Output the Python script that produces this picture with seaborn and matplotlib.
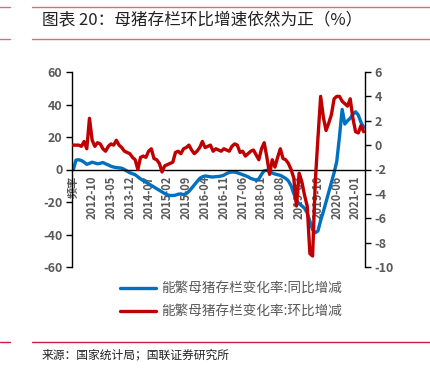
import numpy as np
import pandas as pd
import seaborn as sns
import matplotlib
matplotlib.use('Agg')
from matplotlib import pyplot as plt
from matplotlib.lines import Line2D

# categories: header row "频率" then monthly, 2020-01 not reported
months = pd.period_range('2012-04', '2021-04', freq='M').strftime('%Y-%m').tolist()
months.remove('2020-01')
categories = ['频率'] + months

# 能繁母猪存栏变化率:同比增减 (%), left axis
yoy = [0,
       5.8, 6.0, 5.5, 4.5, 3.2, 3.8, 4.5, 4.0, 3.5,
       3.8, 4.3, 3.5, 2.8, 2.0, 1.5, 1.2, 1.0, 0.8, 0.0, -1.0, -2.0,
       -2.6, -3.2, -4.5, -5.8, -6.8, -7.8, -8.8, -9.8, -10.8, -11.8, -12.8, -13.8,
       -14.8, -15.6, -16.0, -16.0, -15.8, -15.2, -15.0, -15.5, -14.8, -13.5, -11.5, -9.5,
       -7.5, -5.5, -4.5, -4.0, -4.2, -4.5, -4.6, -4.4, -4.3, -4.0, -3.5, -2.5,
       -1.8, -1.5, -1.6, -2.0, -2.6, -3.2, -3.8, -4.5, -5.5, -6.0, -6.5, -5.8,
       -3.0, -0.8, -0.5, -1.5, -2.2, -2.8, -3.2, -3.6, -4.5, -5.5, -7.0, -10.0,
       -14.8, -19.1, -21.0, -22.3, -23.9, -26.7, -31.9, -37.0, -38.9, -37.8, -31.4, -26.0,
       -20.0, -14.0, -8.0, -2.0, 5.0, 20.2, 37.0, 28.0, 30.0, 31.5, 34.0,
       35.5, 33.5, 29.0, 26.0]

# 能繁母猪存栏变化率:环比增减 (%), right axis
mom = [0,
       0.0, 0.0, -0.1, 0.3, -0.3, 2.2, 0.4, -0.1, 0.2,
       0.1, -0.3, -0.5, -0.1, 0.1, 0.0, 0.4, 0.0, -0.2, -0.5, -0.6, -0.7,
       -1.0, -1.2, -2.0, -1.0, -0.9, -1.0, -0.5, -0.3, -1.1, -1.2, -1.5, -2.2,
       -1.7, -1.6, -1.5, -1.4, -0.6, -0.5, -0.7, -0.3, -0.2, 0.0, -0.4, -0.7,
       -0.5, -0.2, 0.3, -0.2, -0.1, 0.0, -0.5, -0.3, -0.4, -0.5, -0.3, -0.4,
       -0.5, -0.1, 0.1, 0.0, -0.6, -0.5, -0.9, -0.7, -0.5, -0.4, -0.8, -1.2,
       -0.3, 0.2, -1.0, -2.4, -1.2, -1.8, -1.0, -0.3, -1.1, -1.2, -1.5, -2.0,
       -2.7, -5.0, -2.3, -3.0, -4.1, -5.0, -8.9, -9.1, -3.0, 0.6, 4.0, 2.3,
       1.2, 1.8, 2.5, 3.8, 4.0, 4.0, 3.6, 3.4, 3.2, 3.8, 2.2,
       1.1, 1.0, 1.6, 1.1]

label_yoy = '能繁母猪存栏变化率:同比增减'
label_mom = '能繁母猪存栏变化率:环比增减'

df = pd.DataFrame({'idx': np.arange(len(categories)), 'month': categories,
                   'yoy': yoy, 'mom': mom})

sns.set_style('white')
plt.rcParams['font.family'] = ['Noto Sans CJK SC', 'DejaVu Sans']
plt.rcParams['axes.unicode_minus'] = False

grey = '#595959'
blue = '#0070C0'
red = '#C00000'

fig = plt.figure(figsize=(4.31, 3.71), dpi=100)
ax = fig.add_axes([72 / 431, 1 - 267 / 371, 293 / 431, 195 / 371])
ax2 = ax.twinx()

sns.lineplot(data=df, x='idx', y='yoy', ax=ax, color=blue, linewidth=2.4, label=label_yoy, legend=False)
sns.lineplot(data=df, x='idx', y='mom', ax=ax2, color=red, linewidth=2.4, label=label_mom, legend=False)

n = len(categories)
ax.set_xlim(-0.5, n - 0.5)
ax.set_ylim(-60, 60)
ax.set_yticks(np.arange(-60, 61, 20))
ax2.set_ylim(-10, 6)
ax2.set_yticks(np.arange(-10, 7, 2))

for a in (ax, ax2):
    a.set_xlabel('')
    a.set_ylabel('')
    a.spines['top'].set_visible(False)
    for s in a.spines.values():
        s.set_color('black')
        s.set_linewidth(1.0)
ax2.spines['bottom'].set_visible(False)
ax.spines['bottom'].set_position(('data', 0))
ax.spines['right'].set_visible(False)
ax2.spines['left'].set_visible(False)

ax.set_xticks(df['idx'][::7])
ax.set_xticklabels(df['month'][::7], rotation=90, fontsize=8, color=grey, fontweight='bold')
ax.set_xticks(np.arange(-0.5, n, 1), minor=True)
ax.tick_params(axis='x', which='both', direction='out', length=3, width=0.6, color='black', pad=1.5)
ax.tick_params(axis='y', direction='out', length=4, width=1, color='black', labelsize=9, labelcolor=grey, pad=3)
ax2.tick_params(axis='y', direction='out', length=4, width=1, color='black', labelsize=9, labelcolor=grey, pad=3)
for t in ax.get_yticklabels() + ax2.get_yticklabels():
    t.set_fontweight('bold')

h1, l1 = ax.get_legend_handles_labels()
h2, l2 = ax2.get_legend_handles_labels()
fig.legend(h1 + h2, l1 + l2, loc='center', bbox_to_anchor=(231 / 431, 1 - 300 / 371),
           frameon=False, fontsize=9.8, handlelength=2.6, labelspacing=0.65, handletextpad=0.4,
           labelcolor=grey)

# title and framing rules
fig.text(42 / 431, 1 - 21 / 371, '图表 20：母猪存栏环比增速依然为正（%）', fontsize=12,
         fontweight='medium', color='#222222', va='center', ha='left')
rule = '#d96b7b'
for y in (7, 39):
    fig.add_artist(Line2D([0, 10 / 431], [1 - y / 371] * 2, color=rule, lw=1, transform=fig.transFigure))
    fig.add_artist(Line2D([32 / 431, 1], [1 - y / 371] * 2, color=rule, lw=1, transform=fig.transFigure))
fig.add_artist(Line2D([0, 10 / 431], [1 - 342 / 371] * 2, color='#c8203c', lw=1, transform=fig.transFigure))
fig.add_artist(Line2D([32 / 431, 1], [1 - 342 / 371] * 2, color='#c8203c', lw=1, transform=fig.transFigure))
fig.text(42 / 431, 1 - 355 / 371, '来源：国家统计局；国联证券研究所', fontsize=8.5, color='#222222',
         va='center', ha='left')

fig.savefig('out.png', dpi=100)
